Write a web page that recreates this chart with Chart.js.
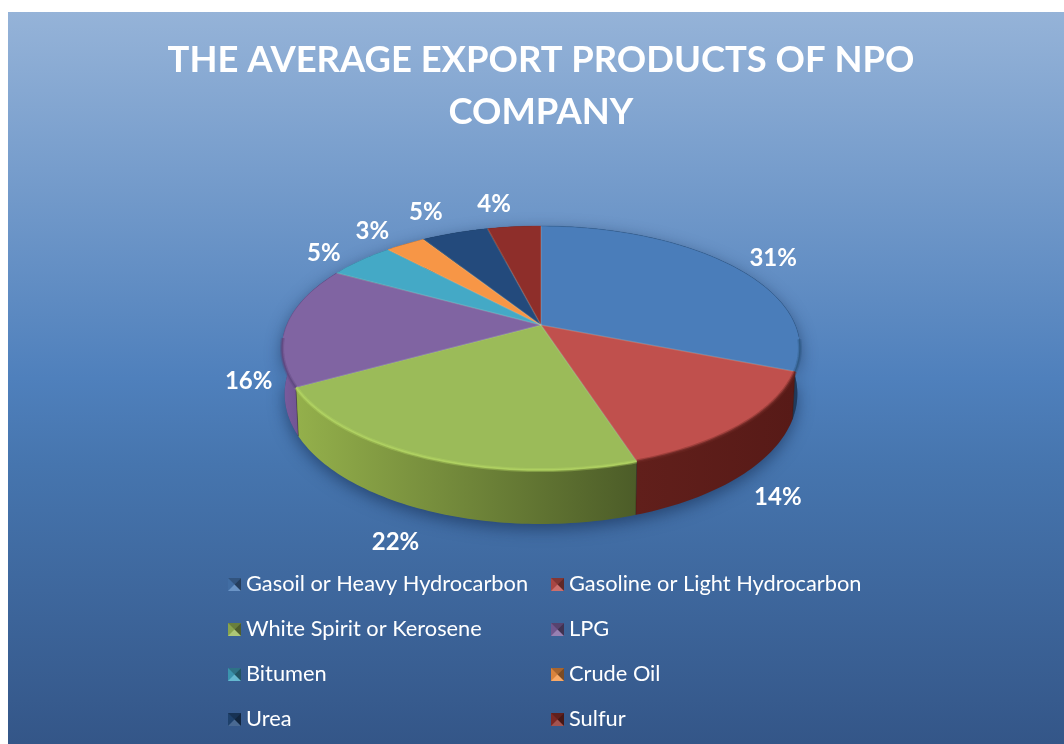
<!DOCTYPE html>
<html>
<head>
<meta charset="utf-8">
<style>html,body{margin:0;padding:0;background:#fff}canvas{display:block}</style>
<script src="https://cdn.jsdelivr.net/npm/chart.js@4"></script>
</head>
<body>
<div style="width:1064px;height:744px;position:relative"><canvas id="c" width="1064" height="744"></canvas></div>
<script>
const titleLines = ['THE AVERAGE EXPORT PRODUCTS OF NPO', 'COMPANY'];
const categories = ['Gasoil or Heavy Hydrocarbon','Gasoline or Light Hydrocarbon','White Spirit or Kerosene','LPG','Bitumen','Crude Oil','Urea','Sulfur'];
const shares = [31,14,22,16,5,3,5,4];
const topColors = ['#4A7DBA','#C0504D','#9BBB59','#8064A2','#44A9C6','#F79646','#234A7C','#8E2E2A'];
const sideLeft  = ['#2A4F78','#611F1B','#94B04B','#7A5C9E','#2E7488','#A8622A','#16304F','#5E1C19'];
const sideRight = ['#1F3A5C','#571A17','#4C5C28','#5A4478','#2E7488','#A8622A','#16304F','#5E1C19'];
const bevel     = ['#2F5A86','#6E2723','#B4D663','#5F4880','#4BACC6','#F79646','#234A7C','#8E2E2A'];
const labelOffsets = [[42,-7],[35,73],[-32,85],[-38,56],[-37,-7],[-33,-13],[-29,-21],[-20,-22]];

const K = 0.1885, KX = 2.57, KY = 1.189;
function project(arc, a, r) {
  const R = arc.outerRadius, u = r*Math.cos(a), v = r*Math.sin(a), w = 1 - K*v;
  return {x: arc.x + KX*R*u/w, y: arc.y + KY*R*v/w, v};
}
function lower(arc, p) {
  const s = arc.outerRadius/99;
  return {x: arc.x + (p.x-arc.x)*0.99, y: p.y + (44+10*p.v)*s};
}
function rimPoints(arc, a0, a1) {
  const n = Math.max(2, Math.ceil((a1-a0)/0.02)), pts = [];
  for (let i=0;i<=n;i++) pts.push(project(arc, a0+(a1-a0)*i/n, 1));
  return pts;
}
function sidePath(ctx, arc, a0, a1) {
  const pts = rimPoints(arc, a0, a1);
  ctx.beginPath();
  pts.forEach((p,i)=> i?ctx.lineTo(p.x,p.y):ctx.moveTo(p.x,p.y));
  pts.slice().reverse().forEach(p=>{const q=lower(arc,p);ctx.lineTo(q.x,q.y);});
  ctx.closePath();
  return pts;
}
const tiltedPie = {
  id:'tiltedPie',
  beforeDraw(chart){
    const c = chart.ctx;
    c.save();
    c.fillStyle='#fff'; c.fillRect(0,0,1064,744);
    const g = c.createLinearGradient(0,12,0,744);
    g.addColorStop(0,'#95B3D8'); g.addColorStop(0.5,'#4F80BC'); g.addColorStop(0.62,'#4675AE'); g.addColorStop(1,'#345688');
    c.fillStyle=g; c.fillRect(8,12,1056,732);
    c.restore();
  },
  beforeDatasetDraw(chart, args){
    const c = chart.ctx, arcs = args.meta.data;
    const first = arcs[0];
    c.save();
    c.save();
    c.shadowColor='rgba(15,35,70,0.55)'; c.shadowBlur=16; c.shadowOffsetY=5;
    c.fillStyle='#33527a';
    sidePath(c, first, -Math.PI/2, Math.PI*1.5); c.fill();
    c.restore();
    arcs.forEach((arc,i)=>{
      const pts = sidePath(c, arc, arc.startAngle, arc.endAngle);
      const xs = pts.map(p=>p.x), x0=Math.min(...xs), x1=Math.max(...xs);
      const g = c.createLinearGradient(x0,0,Math.max(x1,x0+1),0);
      g.addColorStop(0,sideLeft[i]); g.addColorStop(1,sideRight[i]);
      c.fillStyle=g; c.fill();
    });
    arcs.forEach((arc,i)=>{
      const pts = rimPoints(arc, arc.startAngle, arc.endAngle);
      c.beginPath(); c.moveTo(arc.x,arc.y);
      pts.forEach(p=>c.lineTo(p.x,p.y));
      c.closePath(); c.fillStyle=topColors[i]; c.fill();
    });
    arcs.forEach((arc,i)=>{
      const p = project(arc, arc.startAngle, 1);
      c.beginPath(); c.moveTo(arc.x,arc.y); c.lineTo(p.x,p.y);
      c.strokeStyle = 'rgba(225,225,190,0.18)'; c.lineWidth=1.5; c.stroke();
      if (p.v > -0.1) {
        const q = lower(arc,p);
        c.beginPath(); c.moveTo(p.x,p.y); c.lineTo(q.x,q.y);
        c.strokeStyle='rgba(40,20,10,0.35)'; c.lineWidth=1; c.stroke();
      }
    });
    // rim bevel: strong on the viewer's side, barely there at the back
    arcs.forEach((arc,i)=>{
      const pts = rimPoints(arc, arc.startAngle, arc.endAngle);
      const front = pts.filter(p=>p.v>0.1), back = pts.filter(p=>p.v<=0.1);
      const line = set=>{c.beginPath();set.forEach((p,j)=>j?c.lineTo(p.x,p.y):c.moveTo(p.x,p.y));};
      c.strokeStyle=bevel[i];
      if (front.length>1){
        c.globalAlpha=0.4; c.lineWidth=4; line(front); c.stroke();
        c.globalAlpha=0.85; c.lineWidth=1.5; line(front); c.stroke();
      }
      if (back.length>1){
        c.globalAlpha=0.35; c.lineWidth=1; line(back); c.stroke();
      }
      c.globalAlpha=1;
    });
    c.fillStyle='#fff'; c.font='bold 24px Lato'; c.textAlign='center'; c.textBaseline='middle';
    const total = shares.reduce((s,v)=>s+v,0);
    arcs.forEach((arc,i)=>{
      const p = project(arc,(arc.startAngle+arc.endAngle)/2,1);
      c.fillText(Math.round(shares[i]/total*100)+'%', p.x+labelOffsets[i][0], p.y+labelOffsets[i][1]);
    });
    c.restore();
    return false;
  },
  afterDraw(chart){
    const c = chart.ctx, names = chart.data.labels;
    c.save();
    names.forEach((name,i)=>{
      const col = i%2, row = Math.floor(i/2);
      const x = col?551:228, y = 584+row*45;
      const m = 13, l=x, t=y-6, r=x+m, b=y+7, cx=x+m/2, cy=y+0.5;
      const tri=(pts,f)=>{c.beginPath();pts.forEach((p,j)=>j?c.lineTo(p[0],p[1]):c.moveTo(p[0],p[1]));c.closePath();c.fillStyle=f;c.fill();};
      tri([[l,t],[r,t],[r,b],[l,b]],topColors[i]);
      tri([[l,t],[r,t],[cx,cy]],'rgba(0,0,0,0.32)');
      tri([[l,t],[l,b],[cx,cy]],'rgba(0,0,0,0.12)');
      tri([[r,t],[r,b],[cx,cy]],'rgba(0,0,0,0.5)');
      tri([[l,b],[r,b],[cx,cy]],'rgba(255,255,255,0.18)');
      c.fillStyle='#fff'; c.font='21.8px Lato'; c.textAlign='left'; c.textBaseline='middle';
      c.fillText(name, x+18, y);
    });
    c.restore();
  }
};
new Chart(document.getElementById('c'),{
  type:'pie',
  data:{labels:categories,datasets:[{data:shares,backgroundColor:topColors,borderWidth:0}]},
  options:{
    responsive:false, animation:false,
    layout:{padding:{left:18,right:0,top:0,bottom:320}},
    plugins:{
      legend:{display:false}, tooltip:{enabled:false},
      title:{display:true,text:titleLines,color:'#fff',align:'center',
        font:{family:'Lato',size:36.4,weight:'bold',lineHeight:1.43},
        padding:{top:34,bottom:88}}
    }
  },
  plugins:[tiltedPie]
});
</script>
</body>
</html>
